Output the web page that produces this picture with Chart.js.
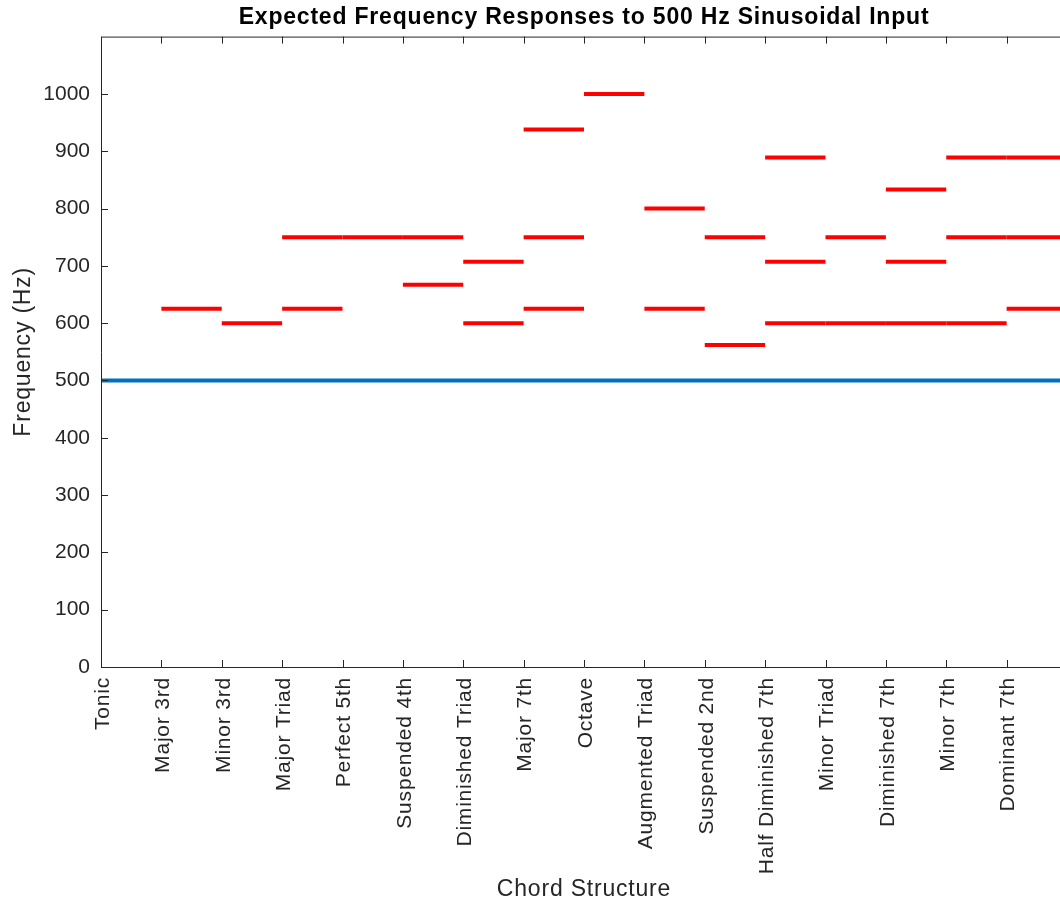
<!DOCTYPE html>
<html>
<head>
  <meta charset="utf-8" />
  <title>Expected Frequency Responses to 500 Hz Sinusoidal Input</title>
  <script src="https://cdn.jsdelivr.net/npm/chart.js"></script>
  <style>
    html, body { margin: 0; padding: 0; background: #fff; overflow: hidden; }
    #wrap { width: 1068px; height: 900px; }
  </style>
</head>
<body>
<div id="wrap"><canvas id="chart" width="1068" height="900"></canvas></div>
<script>
// chord names along the x axis (tick i sits at the left end of chord i's segment)
const chords = [
  'Tonic', 'Major 3rd', 'Minor 3rd', 'Major Triad', 'Perfect 5th',
  'Suspended 4th', 'Diminished Triad', 'Major 7th', 'Octave',
  'Augmented Triad', 'Suspended 2nd', 'Half Diminished 7th',
  'Minor Triad', 'Diminished 7th', 'Minor 7th', 'Dominant 7th'
];

// expected response frequencies (Hz) above the tonic, one list per chord
const chordFreqs = [
  [],
  [625],
  [600],
  [625, 750],
  [750],
  [667, 750],
  [600, 707],
  [625, 750, 938],
  [1000],
  [625, 800],
  [562, 750],
  [600, 707, 889],
  [600, 750],
  [600, 707, 833],
  [600, 750, 889],
  [625, 750, 889]
];

const inputFreq = 500;
const xRange = [0, 16];
const yTicks = [0, 100, 200, 300, 400, 500, 600, 700, 800, 900, 1000];
const yMax = 1100;

const AXIS = '#262626';
const FONT = "'Liberation Sans', Arial, Helvetica, sans-serif";
const SPACING = '0.8px';

const datasets = [];
datasets.push({
  label: 'Input',
  data: [{ x: xRange[0], y: inputFreq }, { x: xRange[1], y: inputFreq }],
  borderColor: '#0072BD',
  borderWidth: 4,
  pointRadius: 0,
  borderCapStyle: 'butt'
});
chordFreqs.forEach((freqs, i) => {
  freqs.forEach(f => {
    datasets.push({
      label: chords[i] + ' ' + f,
      data: [{ x: i, y: f }, { x: i + 1, y: f }],
      borderColor: '#ff0000',
      borderWidth: 4,
      pointRadius: 0,
      borderCapStyle: 'butt'
    });
  });
});

// MATLAB-style box with inward ticks
const boxPlugin = {
  id: 'box',
  beforeDraw(chart) {
    chart.ctx.letterSpacing = SPACING;
  },
  afterDraw(chart) {
    const { ctx, chartArea: a, scales } = chart;
    const tl = 7;
    ctx.save();
    ctx.strokeStyle = AXIS;
    ctx.lineWidth = 1;
    ctx.beginPath();
    ctx.rect(a.left + 0.5, a.top + 0.5, a.right - a.left, a.bottom - a.top);
    for (let i = 0; i < chords.length; i++) {
      const px = Math.round(scales.x.getPixelForValue(i)) + 0.5;
      ctx.moveTo(px, a.bottom); ctx.lineTo(px, a.bottom - tl);
      ctx.moveTo(px, a.top); ctx.lineTo(px, a.top + tl);
    }
    yTicks.forEach(v => {
      const py = Math.round(scales.y.getPixelForValue(v)) + 0.5;
      ctx.moveTo(a.left, py); ctx.lineTo(a.left + tl, py);
      ctx.moveTo(a.right, py); ctx.lineTo(a.right - tl, py);
    });
    ctx.stroke();
    ctx.restore();
    ctx.letterSpacing = '0px';
  }
};

const chart = new Chart(document.getElementById('chart').getContext('2d'), {
  type: 'line',
  data: { datasets },
  plugins: [boxPlugin],
  options: {
    responsive: false,
    animation: false,
    devicePixelRatio: 1,
    layout: { padding: { right: 1, left: 0, top: 0, bottom: 0 } },
    plugins: {
      legend: { display: false },
      tooltip: { enabled: false },
      title: {
        display: true,
        fullSize: false,
        text: 'Expected Frequency Responses to 500 Hz Sinusoidal Input',
        color: '#000',
        font: { family: FONT, size: 23, weight: 'bold' },
        padding: { top: 4, bottom: 5 }
      }
    },
    scales: {
      x: {
        type: 'linear',
        min: xRange[0],
        max: xRange[1],
        afterBuildTicks(scale) {
          scale.ticks = chords.map((_, i) => ({ value: i }));
        },
        afterFit(scale) { scale.height = 233; },
        grid: { display: false, drawTicks: false },
        border: { display: false },
        ticks: {
          autoSkip: false,
          minRotation: 90,
          maxRotation: 90,
          padding: 10,
          labelOffset: 2,
          color: AXIS,
          font: { family: FONT, size: 21 },
          callback: v => chords[v]
        },
        title: {
          display: true,
          text: 'Chord Structure',
          color: AXIS,
          font: { family: FONT, size: 23 },
          padding: { top: 0, bottom: -3 }
        }
      },
      y: {
        type: 'linear',
        min: 0,
        max: yMax,
        afterBuildTicks(scale) {
          scale.ticks = yTicks.map(v => ({ value: v }));
        },
        afterFit(scale) { scale.width = 101; },
        grid: { display: false, drawTicks: false },
        border: { display: false },
        ticks: {
          padding: 11,
          color: AXIS,
          font: { family: FONT, size: 21 },
          callback: v => String(v)
        },
        title: {
          display: true,
          text: 'Frequency (Hz)',
          color: AXIS,
          font: { family: FONT, size: 23 },
          padding: { top: 10, bottom: 0 }
        }
      }
    }
  }
});

// numbers on the y axis keep normal spacing
const yScale = chart.scales.y;
const drawYLabels = yScale.drawLabels;
yScale.drawLabels = function (area) {
  const c = this.ctx;
  const prev = c.letterSpacing;
  c.letterSpacing = '0px';
  drawYLabels.call(this, area);
  c.letterSpacing = prev;
};
chart.draw();
</script>
</body>
</html>
